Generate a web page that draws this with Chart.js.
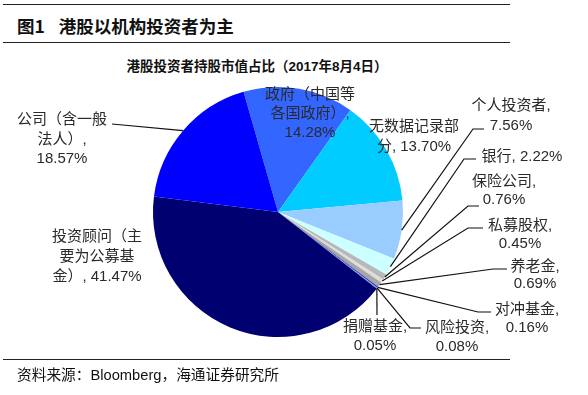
<!DOCTYPE html>
<html>
<head>
<meta charset="utf-8">
<script src="https://cdn.jsdelivr.net/npm/chart.js@4"></script>
<style>
  html, body { margin: 0; padding: 0; background: #fff; }
  body { width: 588px; height: 395px; position: relative; overflow: hidden;
         font-family: "Liberation Sans", "Noto Sans CJK SC", sans-serif; color: #111; }
  .hline { position: absolute; left: 3px; width: 507px; height: 1px; background: #222; }
  #fig { position: absolute; left: 17px; top: 15px; line-height: 22px; font-size: 17.5px; font-weight: bold;
         font-family: "Noto Sans CJK SC", sans-serif; white-space: pre; }
  #fig span { margin-left: 14px; }
  #ctitle { position: absolute; left: 0; width: 514px; top: 57px; line-height: 20px; text-align: center;
            font-size: 13.5px; font-weight: bold; white-space: pre; }
  #src { position: absolute; left: 17px; top: 364px; line-height: 22px; font-size: 14.7px; white-space: pre; }
  canvas { position: absolute; left: 0; top: 0; }
</style>
</head>
<body>
<div class="hline" style="top:4px"></div>
<div id="fig">图1<span>港股以机构投资者为主</span></div>
<div class="hline" style="top:42px"></div>
<div id="ctitle">港股投资者持股市值占比（2017年8月4日）</div>
<canvas id="c" width="588" height="395"></canvas>
<div class="hline" style="top:359px"></div>
<div id="src">资料来源：Bloomberg，海通证券研究所</div>
<script>
// ---- data ----
const categories = [
  "政府（中国等各国政府）", "无数据记录部分", "个人投资者", "银行", "保险公司", "私募股权",
  "养老金", "对冲基金", "风险投资", "捐赠基金", "投资顾问（主要为公募基金）", "公司（含一般法人）"
];
const shares = [14.28, 13.70, 7.56, 2.22, 0.76, 0.45, 0.69, 0.16, 0.08, 0.05, 41.47, 18.57];

// ---- styles ----
const sliceColors = [
  "#3366FF", "#00CCFF", "#99CCFF", "#CCFFFF", "#B8B8B8", "#DDDDDD",
  "#A6A6A6", "#333399", "#6699FF", "#3366CC", "#000070", "#0000FF"
];

// label layout: line breaks (chars per line), anchor (center x, first line y), line height, leader path
const labelLayout = [
  { br: [6, 6], x: 310, y: 95,  lh: 19, leader: null },
  { br: [6],    x: 414, y: 127, lh: 20, leader: null },
  { br: [6],    x: 511, y: 106, lh: 20, leader: [[473, 129], [484, 129]] },
  { br: [],     x: 522, y: 157, lh: 18, leader: [[464, 159], [476, 159]] },
  { br: [5],    x: 504, y: 182, lh: 18, leader: [[468, 206], [479, 206]] },
  { br: [5],    x: 520, y: 226, lh: 18, leader: [[468, 228], [483, 228]] },
  { br: [4],    x: 535, y: 267, lh: 17, leader: [[493, 269], [507, 269]] },
  { br: [5],    x: 527, y: 310, lh: 18, leader: [[478, 312], [491, 312]] },
  { br: [5],    x: 457, y: 328, lh: 19, leader: [[410, 328], [421, 328]] },
  { br: [5],    x: 375, y: 327, lh: 19, leader: [[377, 315]] },
  { br: [6, 5], x: 97,  y: 237, lh: 20, leader: null },
  { br: [6, 4], x: 62,  y: 120, lh: 19.5, leader: [[112, 124]] }
];

function wrapLabel(text, br) {
  const lines = [];
  let pos = 0;
  for (const n of br) { lines.push(text.slice(pos, pos + n).trim()); pos += n; }
  lines.push(text.slice(pos).trim());
  return lines.filter(l => l.length);
}

const labelPlugin = {
  id: 'pieLabels',
  afterDatasetsDraw(chart) {
    const ctx = chart.ctx;
    const meta = chart.getDatasetMeta(0);
    ctx.save();
    ctx.font = '15px "Liberation Sans", "Noto Sans CJK SC", sans-serif';
    ctx.fillStyle = '#2a2a2a';
    ctx.strokeStyle = '#111';
    ctx.lineWidth = 1.2;
    ctx.textAlign = 'center';
    ctx.textBaseline = 'middle';
    meta.data.forEach((arc, i) => {
      const L = labelLayout[i];
      const p = arc.getProps(['x', 'y', 'startAngle', 'endAngle', 'outerRadius'], true);
      const mid = (p.startAngle + p.endAngle) / 2;
      if (L.leader) {
        ctx.beginPath();
        ctx.moveTo(p.x + Math.cos(mid) * p.outerRadius, p.y + Math.sin(mid) * p.outerRadius);
        L.leader.forEach(pt => ctx.lineTo(pt[0], pt[1]));
        ctx.stroke();
      }
      const text = categories[i] + ", " + shares[i].toFixed(2) + "%";
      wrapLabel(text, L.br).forEach((line, k) => ctx.fillText(line, L.x, L.y + k * L.lh));
    });
    ctx.restore();
  }
};

new Chart(document.getElementById('c'), {
  type: 'pie',
  data: {
    labels: categories,
    datasets: [{ data: shares, backgroundColor: sliceColors, borderWidth: 0 }]
  },
  options: {
    responsive: false,
    devicePixelRatio: 1,
    animation: false,
    rotation: -16,
    layout: { padding: { left: 153, right: 185, top: 87, bottom: 58 } },
    plugins: { legend: { display: false }, tooltip: { enabled: false }, title: { display: false } }
  },
  plugins: [labelPlugin]
});
</script>
</body>
</html>
